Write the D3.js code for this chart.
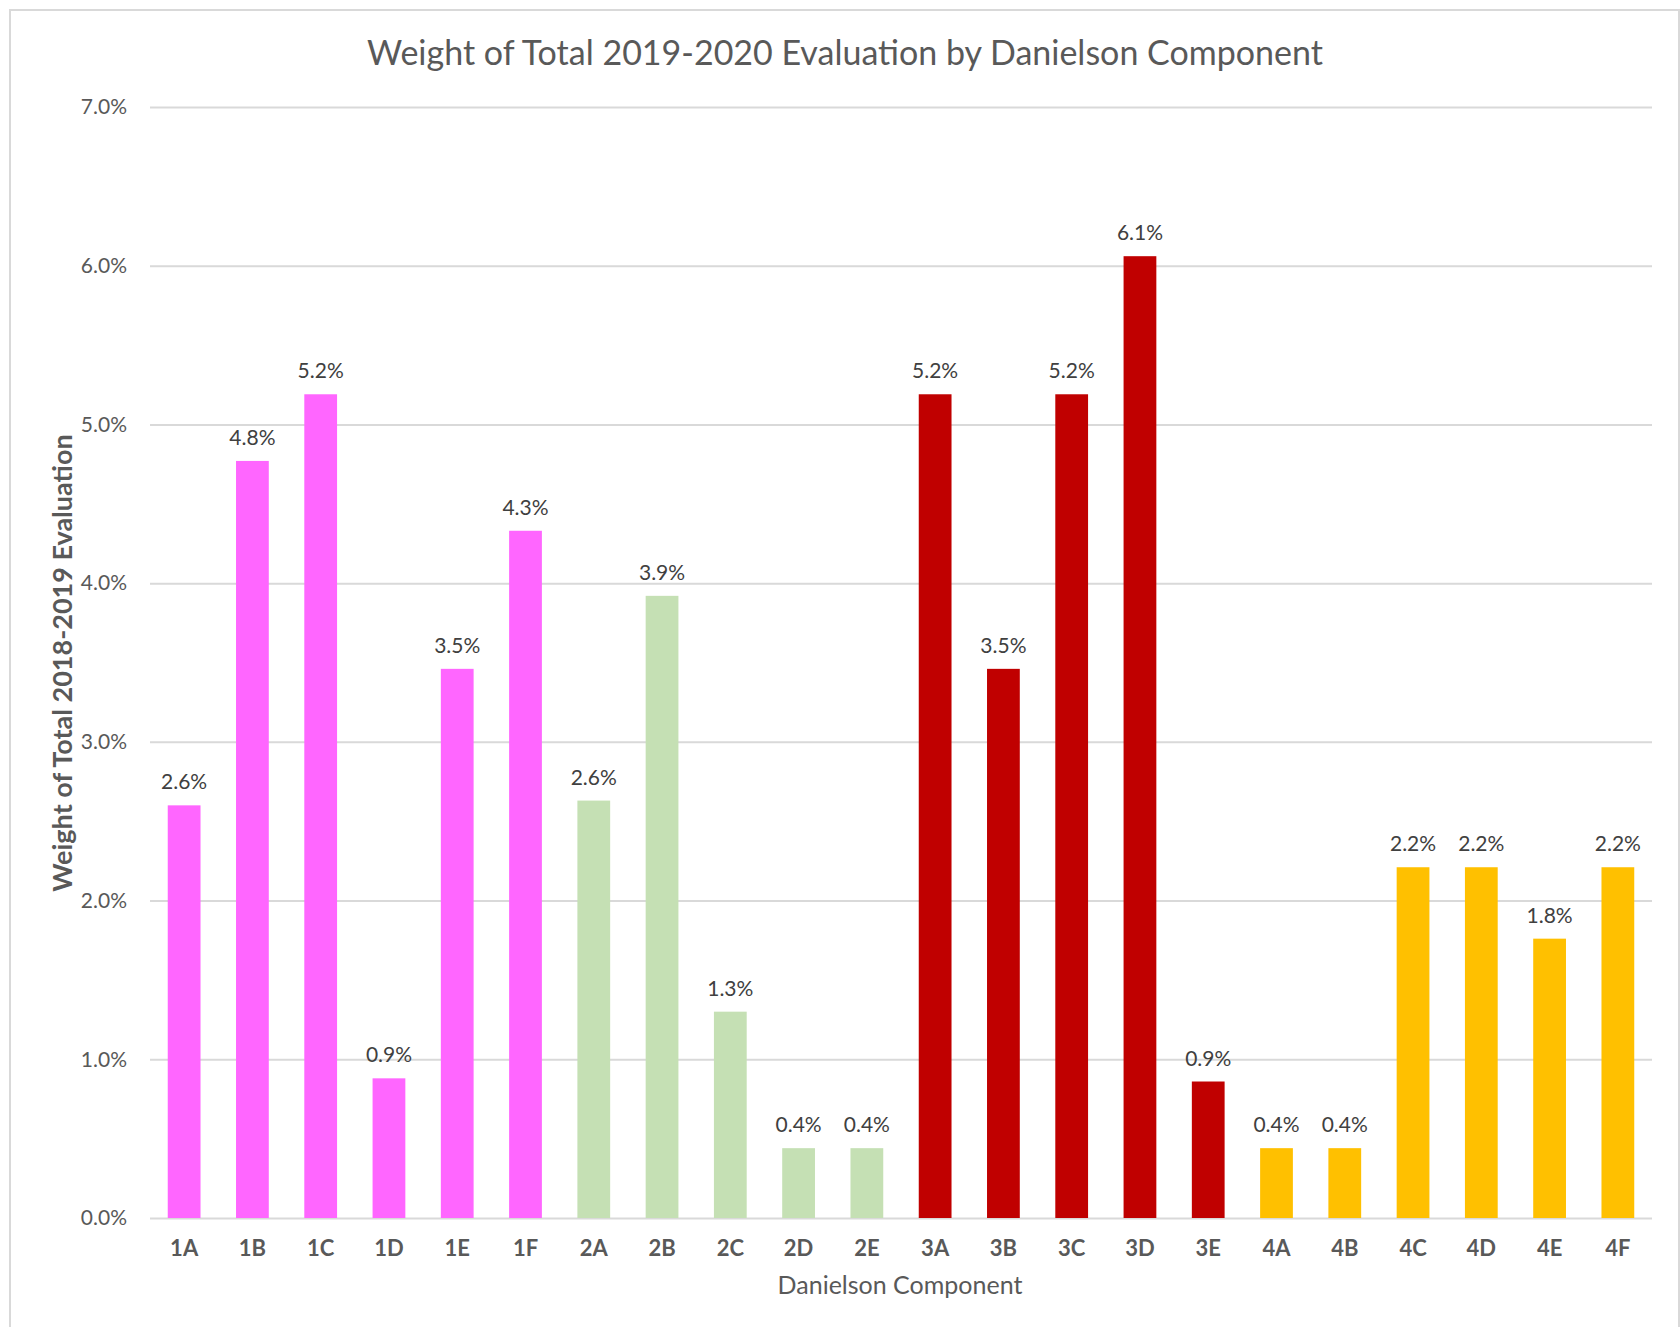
<!DOCTYPE html>
<html>
<head>
<meta charset="utf-8">
<script src="https://cdn.jsdelivr.net/npm/d3@7"></script>
<style>
  body { margin: 0; background: #fff; }
  text { font-family: Lato, "Open Sans", sans-serif; }
</style>
</head>
<body>
<div id="chart"></div>
<script>
// chart data
var components = ["1A", "1B", "1C", "1D", "1E", "1F",
  "2A", "2B", "2C", "2D", "2E",
  "3A", "3B", "3C", "3D", "3E",
  "4A", "4B", "4C", "4D", "4E", "4F"];
var weights = [2.60, 4.77, 5.19, 0.88, 3.46, 4.33,
  2.63, 3.92, 1.30, 0.44, 0.44,
  5.19, 3.46, 5.19, 6.06, 0.86,
  0.44, 0.44, 2.21, 2.21, 1.76, 2.21];
var domains = ["1", "2", "3", "4"];
var domainColors = ["#ff66ff", "#c5e0b4", "#c00000", "#ffc000"];
var yTicks = [0, 1, 2, 3, 4, 5, 6, 7];

var svgWidth = 1680;
var svgHeight = 1327;

var chartMargin = { top: 107, right: 28, bottom: 109, left: 150 };
var chartWidth = svgWidth - chartMargin.left - chartMargin.right;
var chartHeight = svgHeight - chartMargin.top - chartMargin.bottom;

var svg = d3.select("#chart")
  .append("svg")
  .attr("width", svgWidth)
  .attr("height", svgHeight);

// outer chart border
svg.append("rect")
  .attr("x", 10)
  .attr("y", 10)
  .attr("width", 1669)
  .attr("height", 1340)
  .attr("fill", "none")
  .attr("stroke", "#d9d9d9")
  .attr("stroke-width", 2);

var chartGroup = svg.append("g")
  .attr("transform", `translate(${chartMargin.left}, ${chartMargin.top})`);

var xScale = d3.scaleBand()
  .domain(components)
  .range([0, chartWidth])
  .paddingInner(0.52)
  .paddingOuter(0.26);

var yScale = d3.scaleLinear()
  .domain([0, 7])
  .range([chartHeight, 0]);

var colorScale = d3.scaleOrdinal()
  .domain(domains)
  .range(domainColors);

// gridlines + y tick labels
var leftAxis = d3.axisLeft(yScale)
  .tickValues(yTicks)
  .tickSize(-chartWidth)
  .tickPadding(23)
  .tickFormat(d => d.toFixed(1) + "%");

var yAxis = chartGroup.append("g").call(leftAxis);
yAxis.select(".domain").remove();
yAxis.selectAll(".tick line")
  .attr("stroke", "#d9d9d9")
  .attr("stroke-width", 2);
yAxis.selectAll(".tick text")
  .attr("fill", "#595959")
  .attr("font-size", 21);

// bars
chartGroup.selectAll(".bar")
  .data(components)
  .enter()
  .append("rect")
  .attr("class", "bar")
  .attr("x", d => xScale(d))
  .attr("width", xScale.bandwidth())
  .attr("y", (d, i) => yScale(weights[i]))
  .attr("height", (d, i) => chartHeight - yScale(weights[i]))
  .attr("fill", d => colorScale(d.charAt(0)));

// value labels
chartGroup.selectAll(".value-label")
  .data(components)
  .enter()
  .append("text")
  .attr("class", "value-label")
  .attr("x", d => xScale(d) + xScale.bandwidth() / 2)
  .attr("y", (d, i) => yScale(weights[i]) - 16)
  .attr("text-anchor", "middle")
  .attr("font-size", 21)
  .attr("fill", "#404040")
  .text((d, i) => weights[i].toFixed(1) + "%");

// x axis labels
var bottomAxis = d3.axisBottom(xScale).tickSize(0).tickPadding(22);
var xAxis = chartGroup.append("g")
  .attr("transform", `translate(0, ${chartHeight})`)
  .call(bottomAxis);
xAxis.select(".domain").remove();
xAxis.selectAll(".tick text")
  .attr("fill", "#595959")
  .attr("font-size", 22)
  .attr("font-weight", "bold");

// title
svg.append("text")
  .attr("x", 845)
  .attr("y", 65)
  .attr("text-anchor", "middle")
  .attr("font-size", 34)
  .attr("fill", "#595959")
  .text("Weight of Total 2019-2020 Evaluation by Danielson Component");

// axis titles
svg.append("text")
  .attr("x", 900)
  .attr("y", 1294)
  .attr("text-anchor", "middle")
  .attr("font-size", 25)
  .attr("fill", "#595959")
  .text("Danielson Component");

svg.append("text")
  .attr("transform", "translate(72, 663) rotate(-90)")
  .attr("text-anchor", "middle")
  .attr("font-size", 27)
  .attr("font-weight", "bold")
  .attr("fill", "#595959")
  .text("Weight of Total 2018-2019 Evaluation");
</script>
</body>
</html>
